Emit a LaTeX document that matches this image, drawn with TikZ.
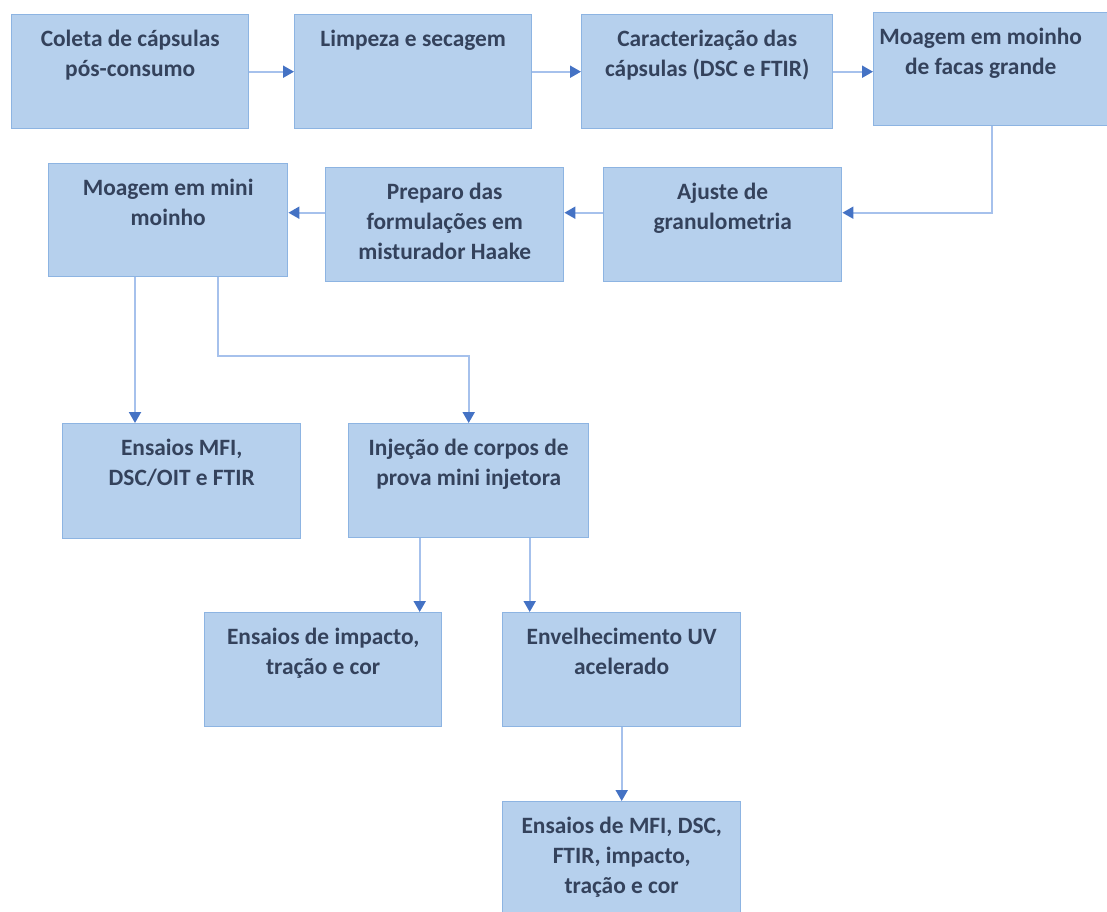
\documentclass[tikz,border=0pt]{standalone}
\usepackage{fontspec}
\setmainfont{Carlito}
\usetikzlibrary{arrows.meta}
\definecolor{boxfill}{RGB}{182,208,237}
\definecolor{boxline}{RGB}{141,180,226}
\definecolor{boxtext}{RGB}{52,66,92}
\definecolor{linha}{RGB}{166,193,236}
\definecolor{seta}{RGB}{68,114,196}
\tikzset{
  etapa/.style={draw=boxline, fill=boxfill, line width=0.7pt, anchor=north west,
    inner sep=0pt, minimum width=#1*0.5pt, minimum height=57pt},
  etapa/.default=237,
  rotulo/.style={font=\bfseries\fontsize{11.7}{14.8}\selectfont, text=boxtext,
    align=center, anchor=north, inner sep=0pt, yshift=-8pt},
  liga/.style={draw=linha, line width=1pt,
    -{Triangle[length=5.5pt,width=6pt,color=seta]}},
}
\begin{document}
\begin{tikzpicture}[x=0.5pt,y=-0.5pt]
\useasboundingbox (0,0) rectangle (1107,911);
\clip (0,0) rectangle (1107,911);
% first row
\node[etapa, label={[rotulo]north:Coleta de cápsulas\\pós-consumo}] (coleta) at (11,14) {};
\node[etapa, label={[rotulo]north:Limpeza e secagem}] (limpeza) at (294,14) {};
\node[etapa=251, label={[rotulo]north:Caracterização das\\cápsulas (DSC e FTIR)}] (caract) at (581,14) {};
\node[etapa=238, minimum height=56.5pt, label={[rotulo,xshift=-6pt]north:Moagem em moinho\\de facas grande}] (moagemG) at (873,12) {};
% second row
\node[etapa=238, label={[rotulo]north:Ajuste de\\granulometria}] (ajuste) at (603,167) {};
\node[etapa=238, label={[rotulo]north:Preparo das\\formulações em\\misturador Haake}] (preparo) at (325,167) {};
\node[etapa=239, minimum height=56.5pt, label={[rotulo]north:Moagem em mini\\moinho}] (mini) at (48,163) {};
% third row
\node[etapa=238, minimum height=57.5pt, label={[rotulo]north:Ensaios MFI,\\DSC/OIT e FTIR}] (ensaiosA) at (62,423) {};
\node[etapa=240, label={[rotulo]north:Injeção de corpos de\\prova mini injetora}] (injecao) at (348,423) {};
% fourth row
\node[etapa, label={[rotulo]north:Ensaios de impacto,\\tração e cor}] (impacto) at (204,612) {};
\node[etapa=238, label={[rotulo]north:Envelhecimento UV\\acelerado}] (envelh) at (502,612) {};
\node[etapa=238, label={[rotulo]north:Ensaios de MFI, DSC,\\FTIR, impacto,\\tração e cor}] (final) at (502,801) {};

% connectors
\draw[liga] (coleta.east) -- (limpeza.west);
\draw[liga] (limpeza.east) -- (caract.west);
\draw[liga] (caract.east) -- (caract.east -| moagemG.west);
\draw[liga] ([xshift=-60pt]moagemG.south east) |- ([yshift=6pt]ajuste.east);
\draw[liga] ([yshift=6pt]ajuste.west) -- ([yshift=6pt]ajuste.west -| preparo.east);
\draw[liga] ([yshift=6pt]preparo.west) -- ([yshift=6pt]preparo.west -| mini.east);
\draw[liga] ([xshift=43.5pt]mini.south west) -- ([xshift=43.5pt]mini.south west |- ensaiosA.north);
\draw[liga] ([xshift=85pt]mini.south west) -- ++(0,79) -| (injecao.north);
\draw[liga] ([xshift=-24.5pt]injecao.south) -- ([xshift=-24.5pt]injecao.south |- impacto.north);
\draw[liga] ([xshift=30.5pt]injecao.south) -- ([xshift=30.5pt]injecao.south |- envelh.north);
\draw[liga] (envelh.south) -- (final.north);
\end{tikzpicture}
\end{document}
